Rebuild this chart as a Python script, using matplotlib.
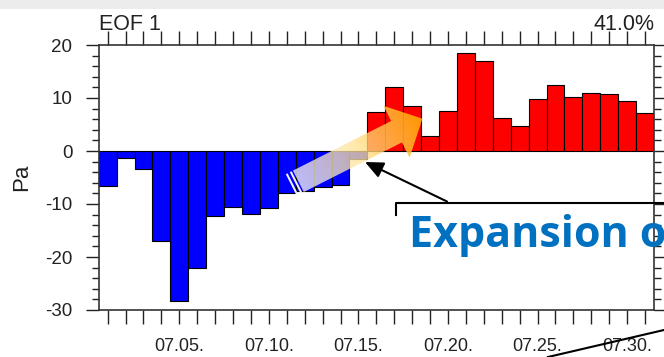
import numpy as np
import matplotlib.pyplot as plt
from matplotlib.patches import Polygon, Rectangle
from matplotlib.ticker import MultipleLocator

## data (EOF 1 time series, July 1..31)
days = np.arange(1, 32)
eof1 = [-6.6, -1.3, -3.4, -16.9, -28.3, -22.0, -12.2, -10.5, -11.9, -10.8,
        -7.9, -7.5, -6.8, -6.5, -1.5, 7.3, 12.0, 8.4, 2.9, 7.6,
        18.4, 17.0, 6.3, 4.8, 9.9, 12.5, 10.1, 11.0, 10.8, 9.5, 7.1]
label_days = [5, 10, 15, 20, 25, 30]
label_text = ['07.05.', '07.10.', '07.15.', '07.20.', '07.25.', '07.30.']
y_ticks = [-30, -20, -10, 0, 10, 20]
title_left = 'EOF 1'
title_right = '41.0%'
note = 'Expansion of'

plt.rcParams['font.family'] = ['Liberation Sans', 'DejaVu Sans']
plt.rcParams['axes.unicode_minus'] = False

W, H = 664, 357
fig = plt.figure(figsize=(W / 100, H / 100), dpi=100)
ax = fig.add_axes([98.7 / W, 1 - 310 / H, (654 - 98.7) / W, 265 / H])

cols = ['#ff0000' if v > 0 else '#0000ff' for v in eof1]
ax.bar(days, eof1, width=1.0, color=cols, edgecolor='black', linewidth=0.8)

ax.set_xlim(0.5, 31.5)
ax.set_ylim(-30, 20)
ax.set_xticks(days)
ax.set_xticklabels([label_text[label_days.index(d)] if d in label_days else '' for d in days])
ax.set_yticks(y_ticks)
ax.yaxis.set_minor_locator(MultipleLocator(2))

ax.tick_params(axis='x', which='major', direction='out', length=10, width=1,
               top=True, bottom=True, labelsize=13, pad=10, colors='#222222')
ax.tick_params(axis='y', which='major', direction='out', length=9.5, width=1,
               left=True, right=True, labelsize=13.5, pad=9.5, colors='#222222')
ax.tick_params(axis='y', which='minor', direction='out', length=5, width=1,
               left=True, right=True, colors='#222222')
for sp in ax.spines.values():
    sp.set_linewidth(1.2)
    sp.set_color('#333333')

ax.set_ylabel('Pa', fontsize=16, color='#222222')
ax.yaxis.set_label_coords(-0.120, 0.5)
ax.text(0.0, 1.057, title_left, transform=ax.transAxes, fontsize=15.5,
        ha='left', va='baseline', color='#222222')
ax.text(1.0, 1.057, title_right, transform=ax.transAxes, fontsize=15.5,
        ha='right', va='baseline', color='#222222')

## overlay in pixel coords for the slide annotations
ov = fig.add_axes([0, 0, 1, 1], zorder=5)
ov.axis('off')

ov.add_patch(Rectangle((0, 0), W, 9, facecolor='#ececec', edgecolor='none'))

# gradient block arrow
T = np.array([293.0, 184.0])
u = np.array([0.893, -0.451])
u = u / np.linalg.norm(u)
n = np.array([-u[1], u[0]])
def pt(s, w):
    return T + s * u + w * n
hw, hh, s0, sb, st = 12, 29, 6, 116, 145
poly = Polygon([pt(s0, -hw), pt(sb, -hw), pt(sb, -hh), pt(st, 0),
                pt(sb, hh), pt(sb, hw), pt(s0, hw)],
               closed=True, facecolor='none', edgecolor='none')
ov.add_patch(poly)
xs = np.arange(270, 430)
ys = np.arange(95, 200)
X, Y = np.meshgrid(xs + 0.5, ys + 0.5)
S = np.clip(((X - T[0]) * u[0] + (Y - T[1]) * u[1]) / st, 0, 1)[..., None]
c0 = np.array([0.95, 0.95, 1.00, 0.78])
c1 = np.array([1.00, 0.89, 0.58, 0.76])
c2 = np.array([1.00, 0.66, 0.00, 0.90])
rgba = np.where(S < 0.5, c0 + (c1 - c0) * (S / 0.5), c1 + (c2 - c1) * ((S - 0.5) / 0.5))
im = ov.imshow(rgba, extent=[270, 430, 200, 95], interpolation='bilinear', aspect='auto')
im.set_clip_path(poly)
for a, b in [(-2, 0), (2.5, 4.5)]:
    ov.add_patch(Polygon([pt(a, -hw), pt(b, -hw), pt(b, hw), pt(a, hw)],
                         closed=True, facecolor='#f4f4ff', edgecolor='none'))

# black pointer, bracket, and stray line
ov.annotate('', xy=(365, 162), xytext=(447, 201.5),
            arrowprops=dict(arrowstyle='-|>,head_length=1.0,head_width=0.45',
                            color='black', lw=1.5, shrinkA=0, shrinkB=0,
                            mutation_scale=11))
ov.plot([396, 396, 664], [215, 202.5, 202.5], color='black', lw=1.5)
ov.plot([548, 664], [357, 330], color='black', lw=1.5)
ov.text(409, 247, note, color='#0070c0', fontsize=31, fontweight='bold',
        family=['Open Sans', 'DejaVu Sans'], ha='left', va='baseline')

ov.set_xlim(0, W)
ov.set_ylim(H, 0)

fig.savefig('out.png', dpi=100)
